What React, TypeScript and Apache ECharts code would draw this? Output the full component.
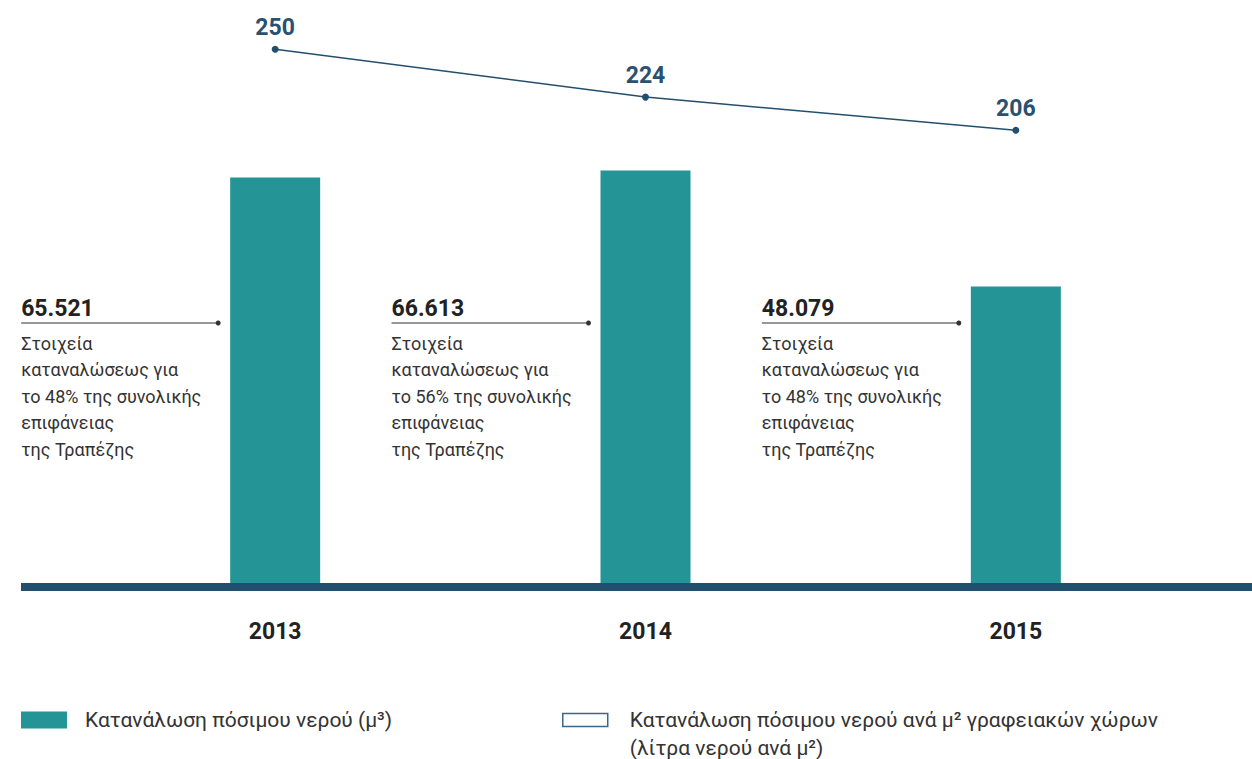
import React, { useEffect, useRef } from "react";
import * as echarts from "echarts";

const years = ["2013", "2014", "2015"];
const consumption = [65521, 66613, 48079];
const perSqm = [250, 224, 206];
const consumptionLabels = ["65.521", "66.613", "48.079"];
const coverage = ["48%", "56%", "48%"];
const barName = "Κατανάλωση πόσιμου νερού (μ³)";
const lineName = "Κατανάλωση πόσιμου νερού ανά μ² γραφειακών χώρων\n(λίτρα νερού ανά μ²)";

const TEAL = "#259497";
const NAVY = "#234f6e";
const FONT = "Roboto";

export default function App() {
  const ref = useRef<HTMLDivElement>(null);
  useEffect(() => {
    document.body.style.margin = "0";
    if (!ref.current) return;
    const chart = echarts.init(ref.current, null, { renderer: "svg" });
    const option: any = {
      animation: false,
      backgroundColor: "#ffffff",
      grid: { left: 90, right: 51, top: 40, bottom: 172 },
      legend: [
        {
          data: [barName],
          left: 21,
          top: 706,
          padding: 0,
          icon: "rect",
          itemWidth: 46,
          itemHeight: 17,
          selectedMode: false,
          textStyle: { fontFamily: FONT, fontSize: 21, color: "#333", lineHeight: 28, padding: [0, 0, 0, 13] },
        },
        {
          data: [{ name: lineName, icon: "rect", itemStyle: { color: "#ffffff", borderColor: "#3b6687", borderWidth: 1.5 } }],
          left: 562,
          top: 678,
          padding: 0,
          itemWidth: 45,
          itemHeight: 13,
          selectedMode: false,
          formatter: (n: string) => "\n" + n,
          textStyle: { fontFamily: FONT, fontSize: 21, color: "#333", lineHeight: 28, padding: [0, 0, 0, 17] },
        },
      ],
      xAxis: {
        type: "category",
        data: years,
        axisLine: { show: false },
        axisTick: { show: false },
        axisLabel: { fontFamily: FONT, fontWeight: "bold", fontSize: 23, color: "#222", margin: 33 },
      },
      yAxis: [
        { type: "value", min: 0, max: 87500, show: false, splitLine: { show: false } },
        { type: "value", min: -42, max: 255, show: false, splitLine: { show: false } },
      ],
      series: [
        {
          name: barName,
          type: "bar",
          data: consumption,
          barWidth: 90,
          itemStyle: { color: TEAL },
        },
        {
          name: lineName,
          type: "line",
          yAxisIndex: 1,
          data: perSqm,
          symbol: "circle",
          symbolSize: 7,
          itemStyle: { color: NAVY },
          lineStyle: { color: NAVY, width: 1.5 },
          label: {
            show: true,
            position: "top",
            distance: 7,
            fontFamily: FONT,
            fontWeight: "bold",
            fontSize: 23,
            color: "#2b5070",
          },
        },
      ],
    };
    chart.setOption(option);

    const graphics: any[] = [
      {
        type: "rect",
        z: 100,
        shape: { x: 21, y: 583, width: 1231, height: 8 },
        style: { fill: NAVY },
      },
    ];
    years.forEach((_, i) => {
      const cx = chart.convertToPixel({ xAxisIndex: 0 }, i) as number;
      const xEnd = cx - 45 - 12;
      const x0 = xEnd - 197;
      graphics.push(
        {
          type: "text",
          x: x0,
          y: 308,
          style: {
            text: consumptionLabels[i],
            font: `bold 23px ${FONT}`,
            fill: "#222",
            verticalAlign: "middle",
          },
        },
        {
          type: "line",
          shape: { x1: x0, y1: 323, x2: xEnd, y2: 323 },
          style: { stroke: "#333", lineWidth: 1.2 },
        },
        {
          type: "circle",
          shape: { cx: xEnd, cy: 323, r: 2.5 },
          style: { fill: "#333" },
        },
        {
          type: "text",
          x: x0,
          y: 330,
          style: {
            text: `Στοιχεία\nκαταναλώσεως για\nτο ${coverage[i]} της συνολικής\nεπιφάνειας\nτης Τραπέζης`,
            font: `18px ${FONT}`,
            lineHeight: 26.5,
            fill: "#333",
            verticalAlign: "top",
          },
        }
      );
    });
    chart.setOption({ graphic: graphics });

    return () => chart.dispose();
  }, []);
  return <div ref={ref} style={{ width: 1252, height: 759 }} />;
}
